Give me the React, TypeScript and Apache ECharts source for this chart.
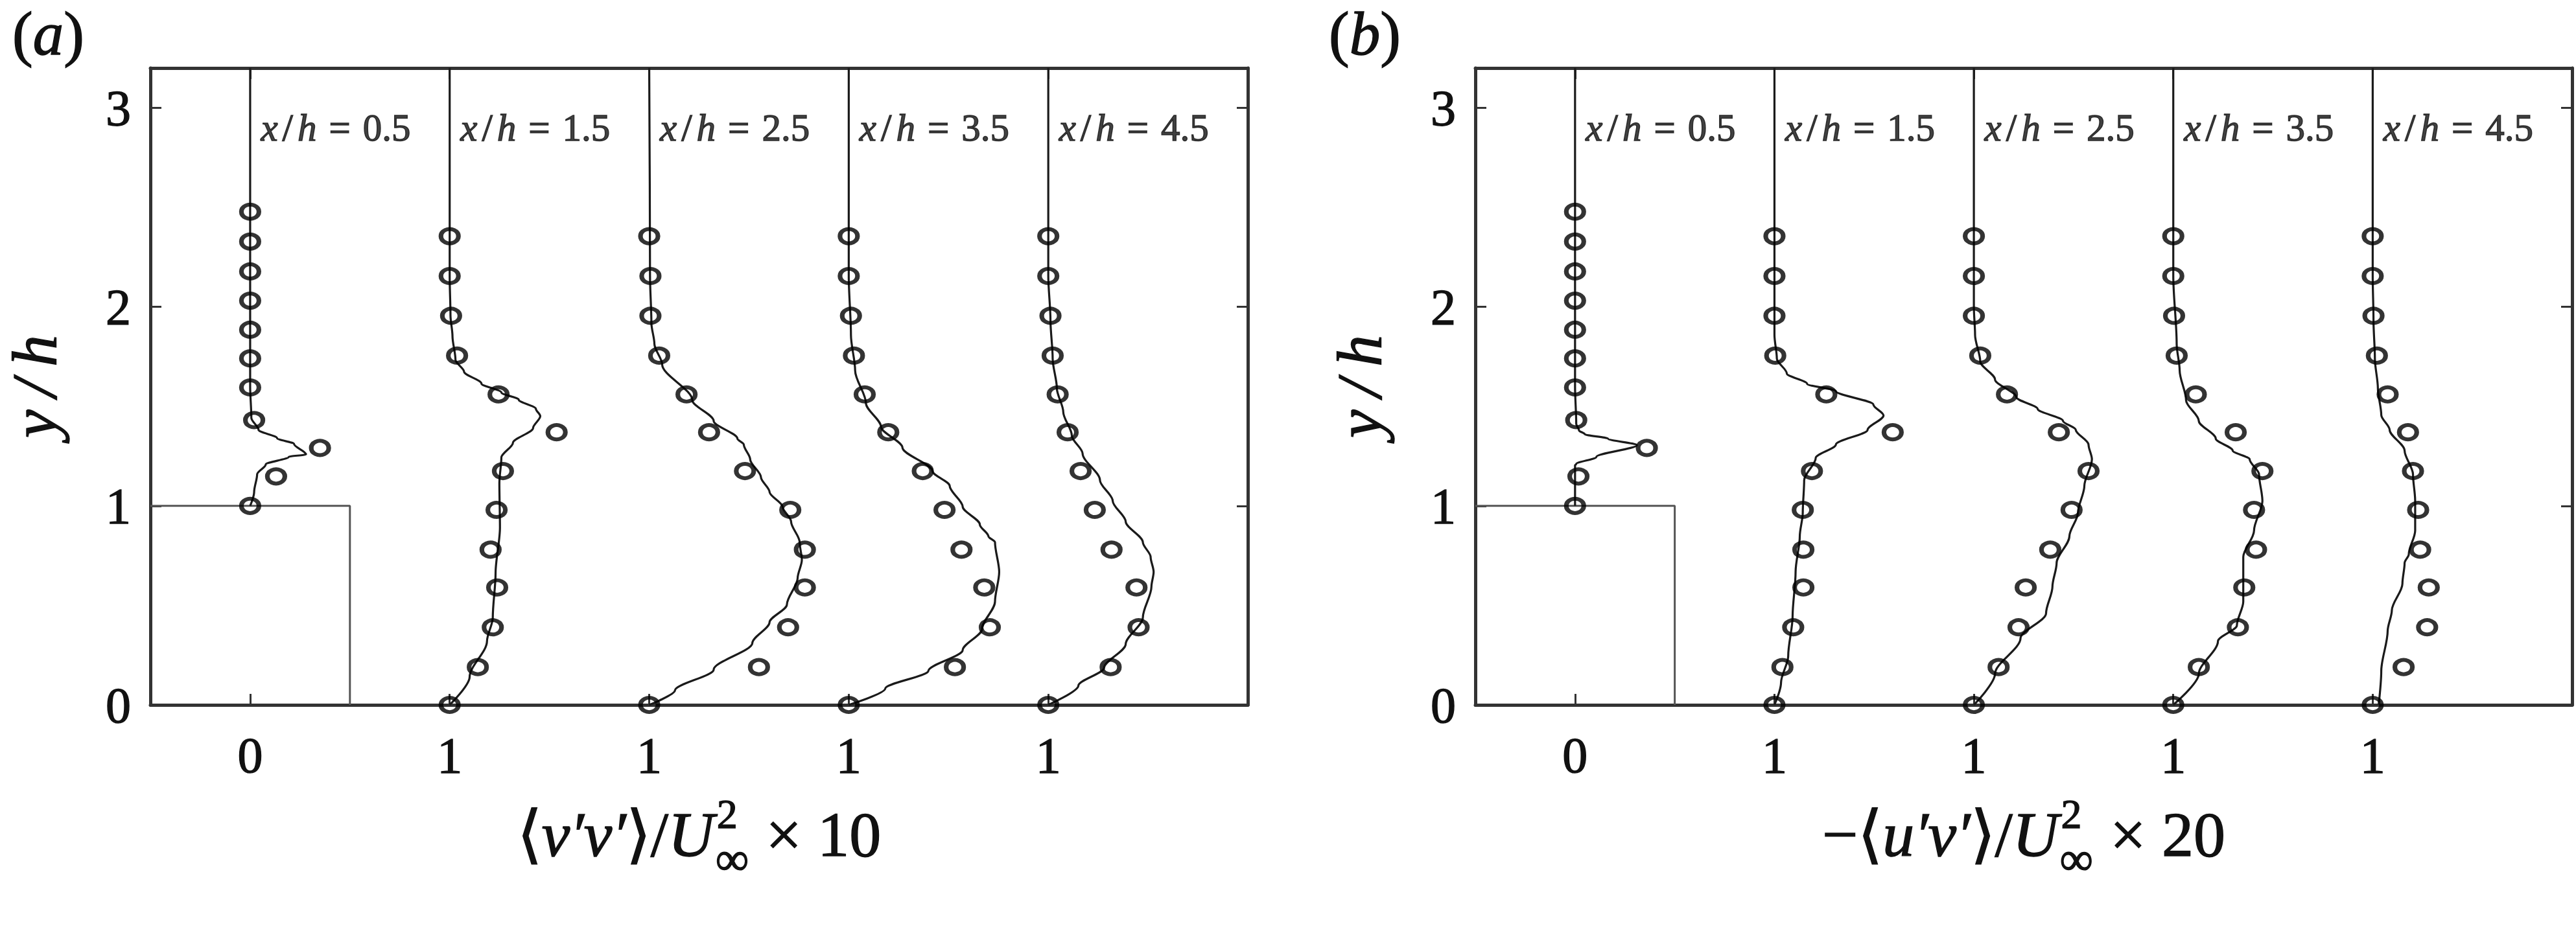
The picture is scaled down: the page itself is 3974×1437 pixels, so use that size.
import React, { useEffect, useRef } from 'react'
import * as echarts from 'echarts'

// x/h stations of the five profiles and the labels printed under them
const stations = [0.5, 1.5, 2.5, 3.5, 4.5]
const xTickLabels = ['0', '1', '1', '1', '1']
const yTicks = [0, 1, 2, 3]
// outline of the cube (x/h, y/h)
const blockOutline = [[0, 1], [1, 1], [1, 0]]

// measurement heights (y/h)
const expYFirst = [1.0, 1.148, 1.291, 1.431, 1.595, 1.741, 1.885, 2.031, 2.178, 2.328, 2.478]
const expY = [0, 0.19, 0.39, 0.59, 0.78, 0.98, 1.175, 1.37, 1.56, 1.755, 1.955, 2.155, 2.355]

// (a) <v'v'> x 10, measured offsets from each station
const vvExp = [
  [0, 0.13, 0.35, 0.02, 0, 0, 0, 0, 0, 0, 0],
  [0, 0.141, 0.216, 0.238, 0.205, 0.235, 0.267, 0.536, 0.245, 0.037, 0.007, 0, 0],
  [0, 0.55, 0.696, 0.78, 0.78, 0.707, 0.48, 0.3, 0.187, 0.05, 0.006, 0.006, 0],
  [0, 0.532, 0.707, 0.679, 0.565, 0.48, 0.371, 0.198, 0.08, 0.026, 0.011, 0, 0],
  [0, 0.3125, 0.4526, 0.442, 0.317, 0.233, 0.162, 0.097, 0.047, 0.022, 0.011, 0, 0],
]

// (a) simulation, [offset, y/h]
const vvLine0 = [[0, 1.0], [0.02, 1.07], [0.035, 1.159], [0.078, 1.208], [0.193, 1.246], [0.28, 1.259], [0.22, 1.311], [0.135, 1.34], [0.042, 1.382], [0.006, 1.442], [0, 1.6], [0, 3.2]]
const vvLine1 = [[0, 0], [0.1, 0.141], [0.187, 0.32], [0.216, 0.439], [0.23, 0.662], [0.252, 0.891], [0.249, 1.115], [0.259, 1.243], [0.317, 1.317], [0.418, 1.391], [0.454, 1.451], [0.432, 1.488], [0.346, 1.533], [0.259, 1.57], [0.159, 1.615], [0.072, 1.674], [0.029, 1.734], [0.014, 1.853], [0.004, 1.957], [0, 2.15], [0, 3.2]]
const vvLine2 = [[0, 0], [0.129, 0.073], [0.323, 0.177], [0.517, 0.311], [0.603, 0.415], [0.69, 0.504], [0.744, 0.638], [0.765, 0.728], [0.754, 0.817], [0.711, 0.921], [0.668, 0.996], [0.603, 1.07], [0.56, 1.144], [0.506, 1.234], [0.474, 1.308], [0.442, 1.338], [0.323, 1.427], [0.216, 1.531], [0.065, 1.71], [0.026, 1.814], [0.011, 1.918], [0.004, 2.156], [0, 3.2]]
const vvLine3 = [[0, 0], [0.183, 0.082], [0.399, 0.171], [0.571, 0.275], [0.668, 0.381], [0.733, 0.519], [0.754, 0.668], [0.733, 0.817], [0.7, 0.847], [0.657, 0.906], [0.571, 0.996], [0.506, 1.1], [0.42, 1.174], [0.269, 1.293], [0.162, 1.397], [0.086, 1.516], [0.032, 1.68], [0.011, 1.859], [0, 2.156], [0, 3.2]]
const vvLine4 = [[0, 0], [0.151, 0.097], [0.28, 0.186], [0.388, 0.305], [0.474, 0.439], [0.517, 0.594], [0.528, 0.668], [0.513, 0.743], [0.474, 0.817], [0.388, 0.921], [0.323, 1.025], [0.259, 1.129], [0.172, 1.263], [0.118, 1.353], [0.075, 1.472], [0.043, 1.591], [0.022, 1.74], [0.011, 1.933], [0, 2.156], [0, 3.2]]

// (b) -<u'v'> x 20, measured offsets
const uvExp = [
  [0, 0.017, 0.36, 0.006, 0, 0, 0, 0, 0, 0, 0],
  [0, 0.04, 0.094, 0.145, 0.145, 0.142, 0.188, 0.593, 0.26, 0.004, 0, 0, 0],
  [0, 0.124, 0.224, 0.26, 0.383, 0.49, 0.575, 0.426, 0.166, 0.032, 0, 0, 0],
  [0, 0.128, 0.324, 0.356, 0.415, 0.405, 0.447, 0.313, 0.113, 0.017, 0.004, 0, 0],
  [0, 0.155, 0.273, 0.281, 0.238, 0.228, 0.202, 0.177, 0.075, 0.021, 0.004, 0, 0],
]

// (b) simulation
const uvLine0 = [[0, 1.0], [0, 1.204], [0.006, 1.21], [0.107, 1.246], [0.31, 1.305], [0.165, 1.338], [0.049, 1.36], [0.02, 1.379], [0.006, 1.412], [0, 1.6], [0, 3.2]]
const uvLine1 = [[0, 0], [0.033, 0.112], [0.069, 0.246], [0.091, 0.445], [0.106, 0.668], [0.127, 0.847], [0.142, 0.966], [0.149, 1.129], [0.207, 1.241], [0.308, 1.308], [0.467, 1.382], [0.547, 1.454], [0.496, 1.509], [0.308, 1.576], [0.164, 1.613], [0.062, 1.665], [0.012, 1.74], [0, 1.859], [0, 3.2]]
const uvLine2 = [[0, 0], [0.106, 0.156], [0.234, 0.335], [0.362, 0.46], [0.394, 0.594], [0.415, 0.713], [0.479, 0.847], [0.522, 0.966], [0.554, 1.1], [0.592, 1.234], [0.575, 1.308], [0.511, 1.382], [0.447, 1.427], [0.32, 1.487], [0.213, 1.546], [0.106, 1.635], [0.032, 1.725], [0.006, 1.859], [0, 2.0], [0, 3.2]]
const uvLine3 = [[0, 0], [0.128, 0.156], [0.224, 0.32], [0.319, 0.4], [0.351, 0.519], [0.351, 0.743], [0.405, 0.876], [0.447, 1.025], [0.43, 1.159], [0.383, 1.234], [0.298, 1.278], [0.213, 1.338], [0.128, 1.427], [0.064, 1.531], [0.032, 1.68], [0.017, 1.814], [0, 2.156], [0, 3.2]]
const uvLine4 = [[0.03, 0], [0.043, 0.171], [0.075, 0.371], [0.096, 0.475], [0.149, 0.609], [0.16, 0.713], [0.181, 0.757], [0.213, 0.876], [0.213, 1.025], [0.202, 1.159], [0.16, 1.278], [0.085, 1.382], [0.043, 1.457], [0.026, 1.591], [0.011, 1.74], [0.004, 1.933], [0, 2.156], [0, 3.2]]

const vvSim = [vvLine0, vvLine1, vvLine2, vvLine3, vvLine4]
const uvSim = [uvLine0, uvLine1, uvLine2, uvLine3, uvLine4]

const FONT = 'Liberation Serif, Times New Roman, Times, serif'
const INK = '#111'
const FRAME = '#333'
const HEAVY = 1.4 // extra stroke so the type is as dark as the scan

const GRID_TOP = 105
const GRID_H = 983
const grids = [
  { left: 232, width: 1693 },
  { left: 2276, width: 1692 },
]

let measureCtx: CanvasRenderingContext2D | null = null
function textWidth(text: string, size: number, italic = false) {
  if (!measureCtx) measureCtx = document.createElement('canvas').getContext('2d')
  measureCtx!.font = `${italic ? 'italic ' : ''}${size}px ${FONT}`
  return measureCtx!.measureText(text).width
}

// graphic elements take zrender style names (stroke / lineWidth)
function graphicRich(size: number) {
  const base = { fontSize: size, fontFamily: FONT, fill: INK, stroke: INK, lineWidth: HEAVY }
  return {
    n: { ...base },
    i: { ...base, fontStyle: 'italic' },
  }
}

// series labels take echarts label names (textBorderColor / textBorderWidth)
function labelRich(size: number) {
  const base = { fontSize: size, fontFamily: FONT, color: INK, textBorderColor: INK, textBorderWidth: HEAVY }
  return {
    n: { ...base },
    i: { ...base, fontStyle: 'italic' },
    s: { ...base, padding: [0, 7, 0, 7] },
    e: { ...base, padding: [0, 19, 0, 19] },
  }
}

function textEl(x: number, y: number, text: string, size: number, rich?: any, styleExtra: any = {}) {
  return {
    type: 'text',
    x,
    y,
    silent: true,
    style: {
      text,
      rich,
      fontSize: size,
      fontFamily: FONT,
      fill: INK,
      stroke: INK,
      lineWidth: HEAVY,
      align: 'left',
      verticalAlign: 'middle',
      textAlign: 'left',
      textVerticalAlign: 'middle',
      ...styleExtra,
    },
  }
}

// axis title with stacked super/subscript after U
function titleEls(cx: number, parts: [string, boolean][], tail: string) {
  const big = 98
  const supSize = 64
  const subSize = 72
  const mainW = parts.reduce((s, [t, it]) => s + textWidth(t, big, it), 0)
  const scriptW = Math.max(textWidth('2', supSize), textWidth('\u221e', subSize))
  const tailW = textWidth(tail, big)
  const total = mainW + 4 + scriptW + tailW
  const x0 = cx - total / 2
  const richText = parts.map(([t, it]) => `{${it ? 'i' : 'n'}|${t}}`).join('')
  return [
    textEl(x0, 1288, richText, big, graphicRich(big)),
    textEl(x0 + mainW + 4, 1256, '2', supSize, undefined, { lineHeight: 48 }),
    textEl(x0 + mainW + 2, 1326, '\u221e', subSize, undefined, { lineHeight: 48 }),
    textEl(x0 + mainW + 4 + scriptW, 1288, tail, big),
  ]
}

const tickFont = {
  fontSize: 78,
  fontFamily: FONT,
  color: INK,
  textBorderColor: INK,
  textBorderWidth: HEAVY,
}

function xAxes(g: number) {
  const common = {
    type: 'value',
    gridIndex: g,
    min: 0,
    max: 5.5,
    splitLine: { show: false },
    axisLine: { show: true, onZero: false, lineStyle: { color: FRAME, width: 5 } },
    axisTick: { show: true, inside: true, length: 17, customValues: stations, lineStyle: { color: FRAME, width: 3 } },
  }
  return [
    {
      ...common,
      position: 'bottom',
      axisLabel: {
        show: true,
        customValues: stations,
        margin: 38,
        ...tickFont,
        formatter: (v: number) => xTickLabels[stations.indexOf(v)] ?? '',
      },
    },
    { ...common, position: 'top', axisLabel: { show: false } },
  ]
}

function yAxes(g: number) {
  const common = {
    type: 'value',
    gridIndex: g,
    min: 0,
    max: 3.2,
    splitLine: { show: false },
    axisLine: { show: true, onZero: false, lineStyle: { color: FRAME, width: 5 } },
    axisTick: { show: true, inside: true, length: 17, customValues: yTicks, lineStyle: { color: FRAME, width: 3 } },
  }
  return [
    {
      ...common,
      position: 'left',
      name: 'y\u2009/\u2009h',
      nameLocation: 'middle',
      nameGap: 130,
      nameTextStyle: {
        fontSize: 98,
        fontStyle: 'italic',
        fontFamily: FONT,
        color: INK,
        textBorderColor: INK,
        textBorderWidth: HEAVY,
      },
      axisLabel: { show: true, customValues: yTicks, margin: 30, ...tickFont },
    },
    { ...common, position: 'right', axisLabel: { show: false } },
  ]
}

function panelSeries(g: number, exp: number[][], sim: number[][][]) {
  const idx = { xAxisIndex: g * 2, yAxisIndex: g * 2 }
  const out: any[] = []
  out.push({
    type: 'line',
    ...idx,
    data: blockOutline,
    symbol: 'none',
    silent: true,
    z: 1,
    lineStyle: { color: '#555', width: 3 },
  })
  sim.forEach((line, i) => {
    out.push({
      type: 'line',
      ...idx,
      data: line.map(([dx, y]) => [stations[i] + dx, y]),
      symbol: 'none',
      smooth: 0.3,
      smoothMonotone: 'y',
      silent: true,
      z: 2,
      lineStyle: { color: '#1a1a1a', width: 3.2 },
    })
  })
  exp.forEach((offs, i) => {
    const ys = i === 0 ? expYFirst : expY
    out.push({
      type: 'scatter',
      ...idx,
      data: offs.map((dx, k) => [stations[i] + dx, ys[k]]),
      symbol: 'circle',
      symbolSize: [27, 22],
      silent: true,
      z: 3,
      itemStyle: { color: 'rgba(0,0,0,0)', borderColor: '#000', borderWidth: 6.5 },
    })
  })
  out.push({
    type: 'scatter',
    ...idx,
    data: stations.map(s => [s, 2.9]),
    symbolSize: 1,
    silent: true,
    z: 4,
    itemStyle: { color: 'rgba(0,0,0,0)' },
    label: {
      show: true,
      position: 'right',
      distance: 16,
      formatter: (p: any) => `{i|x}{s|/}{i|h}{e|=}{n|${stations[p.dataIndex].toFixed(1)}}`,
      rich: labelRich(59),
    },
  })
  return out
}

function buildOption() {
  const centers = grids.map(gr => gr.left + gr.width / 2)
  return {
    animation: false,
    backgroundColor: '#fff',
    grid: grids.map(gr => ({ left: gr.left, top: GRID_TOP, width: gr.width, height: GRID_H })),
    xAxis: [...xAxes(0), ...xAxes(1)],
    yAxis: [...yAxes(0), ...yAxes(1)],
    series: [...panelSeries(0, vvExp, vvSim), ...panelSeries(1, uvExp, uvSim)],
    graphic: [
      textEl(19, 52, '{n|(}{i|a}{n|)}', 95, graphicRich(95)),
      textEl(2050, 52, '{n|(}{i|b}{n|)}', 95, graphicRich(95)),
      ...titleEls(centers[0], [['\u27e8', false], ['v\u2032v\u2032', true], ['\u27e9/', false], ['U', true]], ' \u00d7 10'),
      ...titleEls(centers[1], [['\u2212\u27e8', false], ['u\u2032v\u2032', true], ['\u27e9/', false], ['U', true]], ' \u00d7 20'),
    ],
  }
}

export default function App() {
  const chartRef = useRef<HTMLDivElement>(null)

  useEffect(() => {
    document.body.style.margin = '0'
    document.body.style.overflow = 'hidden'
    if (!chartRef.current) return
    const chart = echarts.init(chartRef.current, null, { renderer: 'svg' })
    chart.setOption(buildOption() as any)
    return () => {
      chart.dispose()
    }
  }, [])

  return <div ref={chartRef} style={{ width: 3974, height: 1437 }} />
}
